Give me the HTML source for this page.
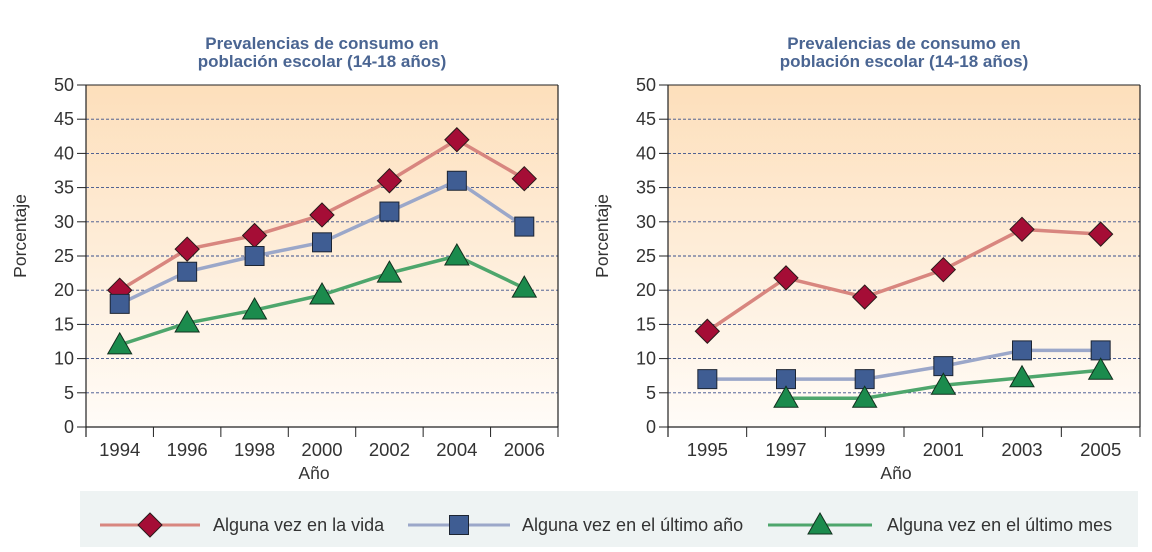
<!DOCTYPE html>
<html><head><meta charset="utf-8">
<style>
html,body{margin:0;padding:0;background:#fff;width:1152px;height:552px;overflow:hidden;font-family:"Liberation Sans",sans-serif;}
svg text{font-family:"Liberation Sans",sans-serif;}
.title{font-family:"Liberation Sans Narrow","Liberation Sans",sans-serif;font-weight:bold;fill:#4a6592;font-size:17px;}
</style></head>
<body>
<svg id="chart" width="1152" height="552" viewBox="0 0 1152 552">
<defs>
<linearGradient id="bg" x1="0" y1="0" x2="0" y2="1">
<stop offset="0" stop-color="#fddfbb"/>
<stop offset="1" stop-color="#fffcf8"/>
</linearGradient>
</defs>
<g id="left"></g>
<g id="right"></g>
<g id="legend"></g>
</svg>
<script>
const leftYears = ["1994","1996","1998","2000","2002","2004","2006"];
const leftVida = [20, 26, 28, 31, 36, 42, 36.3];
const leftAno = [18, 22.7, 25, 27, 31.5, 36, 29.3];
const leftMes = [12, 15.2, 17.1, 19.3, 22.5, 25, 20.3];
const rightYears = ["1995","1997","1999","2001","2003","2005"];
const rightVida = [14, 21.8, 19, 23, 28.9, 28.2];
const rightAno = [7, 7, 7, 8.9, 11.2, 11.2];
const rightMes = [null, 4.2, 4.2, 6.1, 7.2, 8.3];
const yTicks = [0,5,10,15,20,25,30,35,40,45,50];
const titleLines = ["Prevalencias de consumo en","población escolar (14-18 años)"];

const NS="http://www.w3.org/2000/svg";
function mk(parent,tag,attrs,text){const e=document.createElementNS(NS,tag);for(const k in attrs)e.setAttribute(k,attrs[k]);if(text!==undefined)e.textContent=text;parent.appendChild(e);return e;}
const COL={vida:["#d8867f","#a50d36"],ano:["#9ba7c9","#3f5d93"],mes:["#4ea66c","#1b8b4d"]};
function marker(g,type,x,y){
  let e;
  if(type==="vida"){e=mk(g,"path",{d:`M${x} ${y-12}L${x+12} ${y}L${x} ${y+12}L${x-12} ${y}Z`,fill:COL.vida[1],stroke:"#2a1a1a","stroke-width":1});}
  else if(type==="ano"){e=mk(g,"rect",{x:x-9.5,y:y-9.5,width:19,height:19,fill:COL.ano[1],stroke:"#1d2533","stroke-width":1});}
  else {e=mk(g,"path",{d:`M${x} ${y-12}L${x+12} ${y+9}L${x-12} ${y+9}Z`,fill:COL.mes[1],stroke:"#12301e","stroke-width":1});}
  return e;
}
function drawChart(g,L,R,cats,series,cx){
  const T=85,B=427;
  const y=v=>B-(v/50)*(B-T);
  const bw=(R-L)/cats.length;
  const x=i=>L+bw*(i+0.5);
  let t=mk(g,"text",{x:cx,y:49,"text-anchor":"middle",class:"title"},titleLines[0]);
  
  
  t=mk(g,"text",{x:cx,y:67,"text-anchor":"middle",class:"title"},titleLines[1]);
  
  
  const p=mk(g,"rect",{x:L,y:T,width:R-L,height:B-T,fill:"url(#bg)"});
  
  
  yTicks.forEach(v=>{
    if(v>0&&v<50){const gl=mk(g,"line",{x1:L,x2:R,y1:y(v),y2:y(v),stroke:"#3a4f8a","stroke-width":0.9,"stroke-dasharray":"3,2"});
    
    }
    mk(g,"line",{x1:L-9,x2:L,y1:y(v),y2:y(v),stroke:"#222","stroke-width":1});
    const tl=mk(g,"text",{x:L-12,y:y(v)+6,"text-anchor":"end","font-size":18,fill:"#333"},String(v));
    
    
  });
  mk(g,"line",{x1:L,x2:R,y1:T,y2:T,stroke:"#222","stroke-width":1});
  mk(g,"line",{x1:R,x2:R,y1:T,y2:B,stroke:"#222","stroke-width":1.2});
  mk(g,"line",{x1:L,x2:L,y1:T,y2:B+10,stroke:"#222","stroke-width":1.2});
  mk(g,"line",{x1:L,x2:R,y1:B,y2:B,stroke:"#222","stroke-width":1.2});
  for(let i=1;i<=cats.length;i++)mk(g,"line",{x1:L+bw*i,x2:L+bw*i,y1:B,y2:B+10,stroke:"#222","stroke-width":1});
  cats.forEach((c,i)=>{const tl=mk(g,"text",{x:x(i),y:456,"text-anchor":"middle","font-size":18.5,fill:"#333"},c);
    
    });
  let at=mk(g,"text",{x:(L+R)/2-8,y:479,"text-anchor":"middle","font-size":17.5,fill:"#333"},"Año");
  
  
  at=mk(g,"text",{x:0,y:0,"text-anchor":"middle","font-size":17.5,fill:"#333",transform:`translate(${L-60},${236}) rotate(-90)`},"Porcentaje");
  
  
  series.forEach(([key,vals])=>{
    let d="";vals.forEach((v,i)=>{if(v==null)return;d+=(d?"L":"M")+x(i)+" "+y(v);});
    const ln=mk(g,"path",{d:d,fill:"none",stroke:COL[key][0],"stroke-width":3.5,"stroke-linejoin":"round"});
    
    
  });
  series.forEach(([key,vals])=>{
    vals.forEach((v,i)=>{if(v==null)return;const m=marker(g,key,x(i),y(v));
      
      });
  });
}
drawChart(document.getElementById("left"),86,558,leftYears,[["vida",leftVida],["ano",leftAno],["mes",leftMes]],322);
drawChart(document.getElementById("right"),668,1140,rightYears,[["vida",rightVida],["ano",rightAno],["mes",rightMes]],904);

const lg=document.getElementById("legend");
const lb=mk(lg,"rect",{x:80,y:491,width:1058,height:56,fill:"#eef3f3"});


const entries=[["vida","Alguna vez en la vida",100,200,213],["ano","Alguna vez en el último año",408,510,522],["mes","Alguna vez en el último mes",768,872,887]];
entries.forEach(([k,label,x1,x2,tx])=>{
  const eg=mk(lg,"g",{});
  
  
  mk(eg,"line",{x1:x1,x2:x2,y1:525,y2:525,stroke:COL[k][0],"stroke-width":3});
  marker(eg,k,(x1+x2)/2,525);
  mk(eg,"text",{x:tx,y:531,"font-size":18,fill:"#333"},label);
});
</script>
</body></html>
